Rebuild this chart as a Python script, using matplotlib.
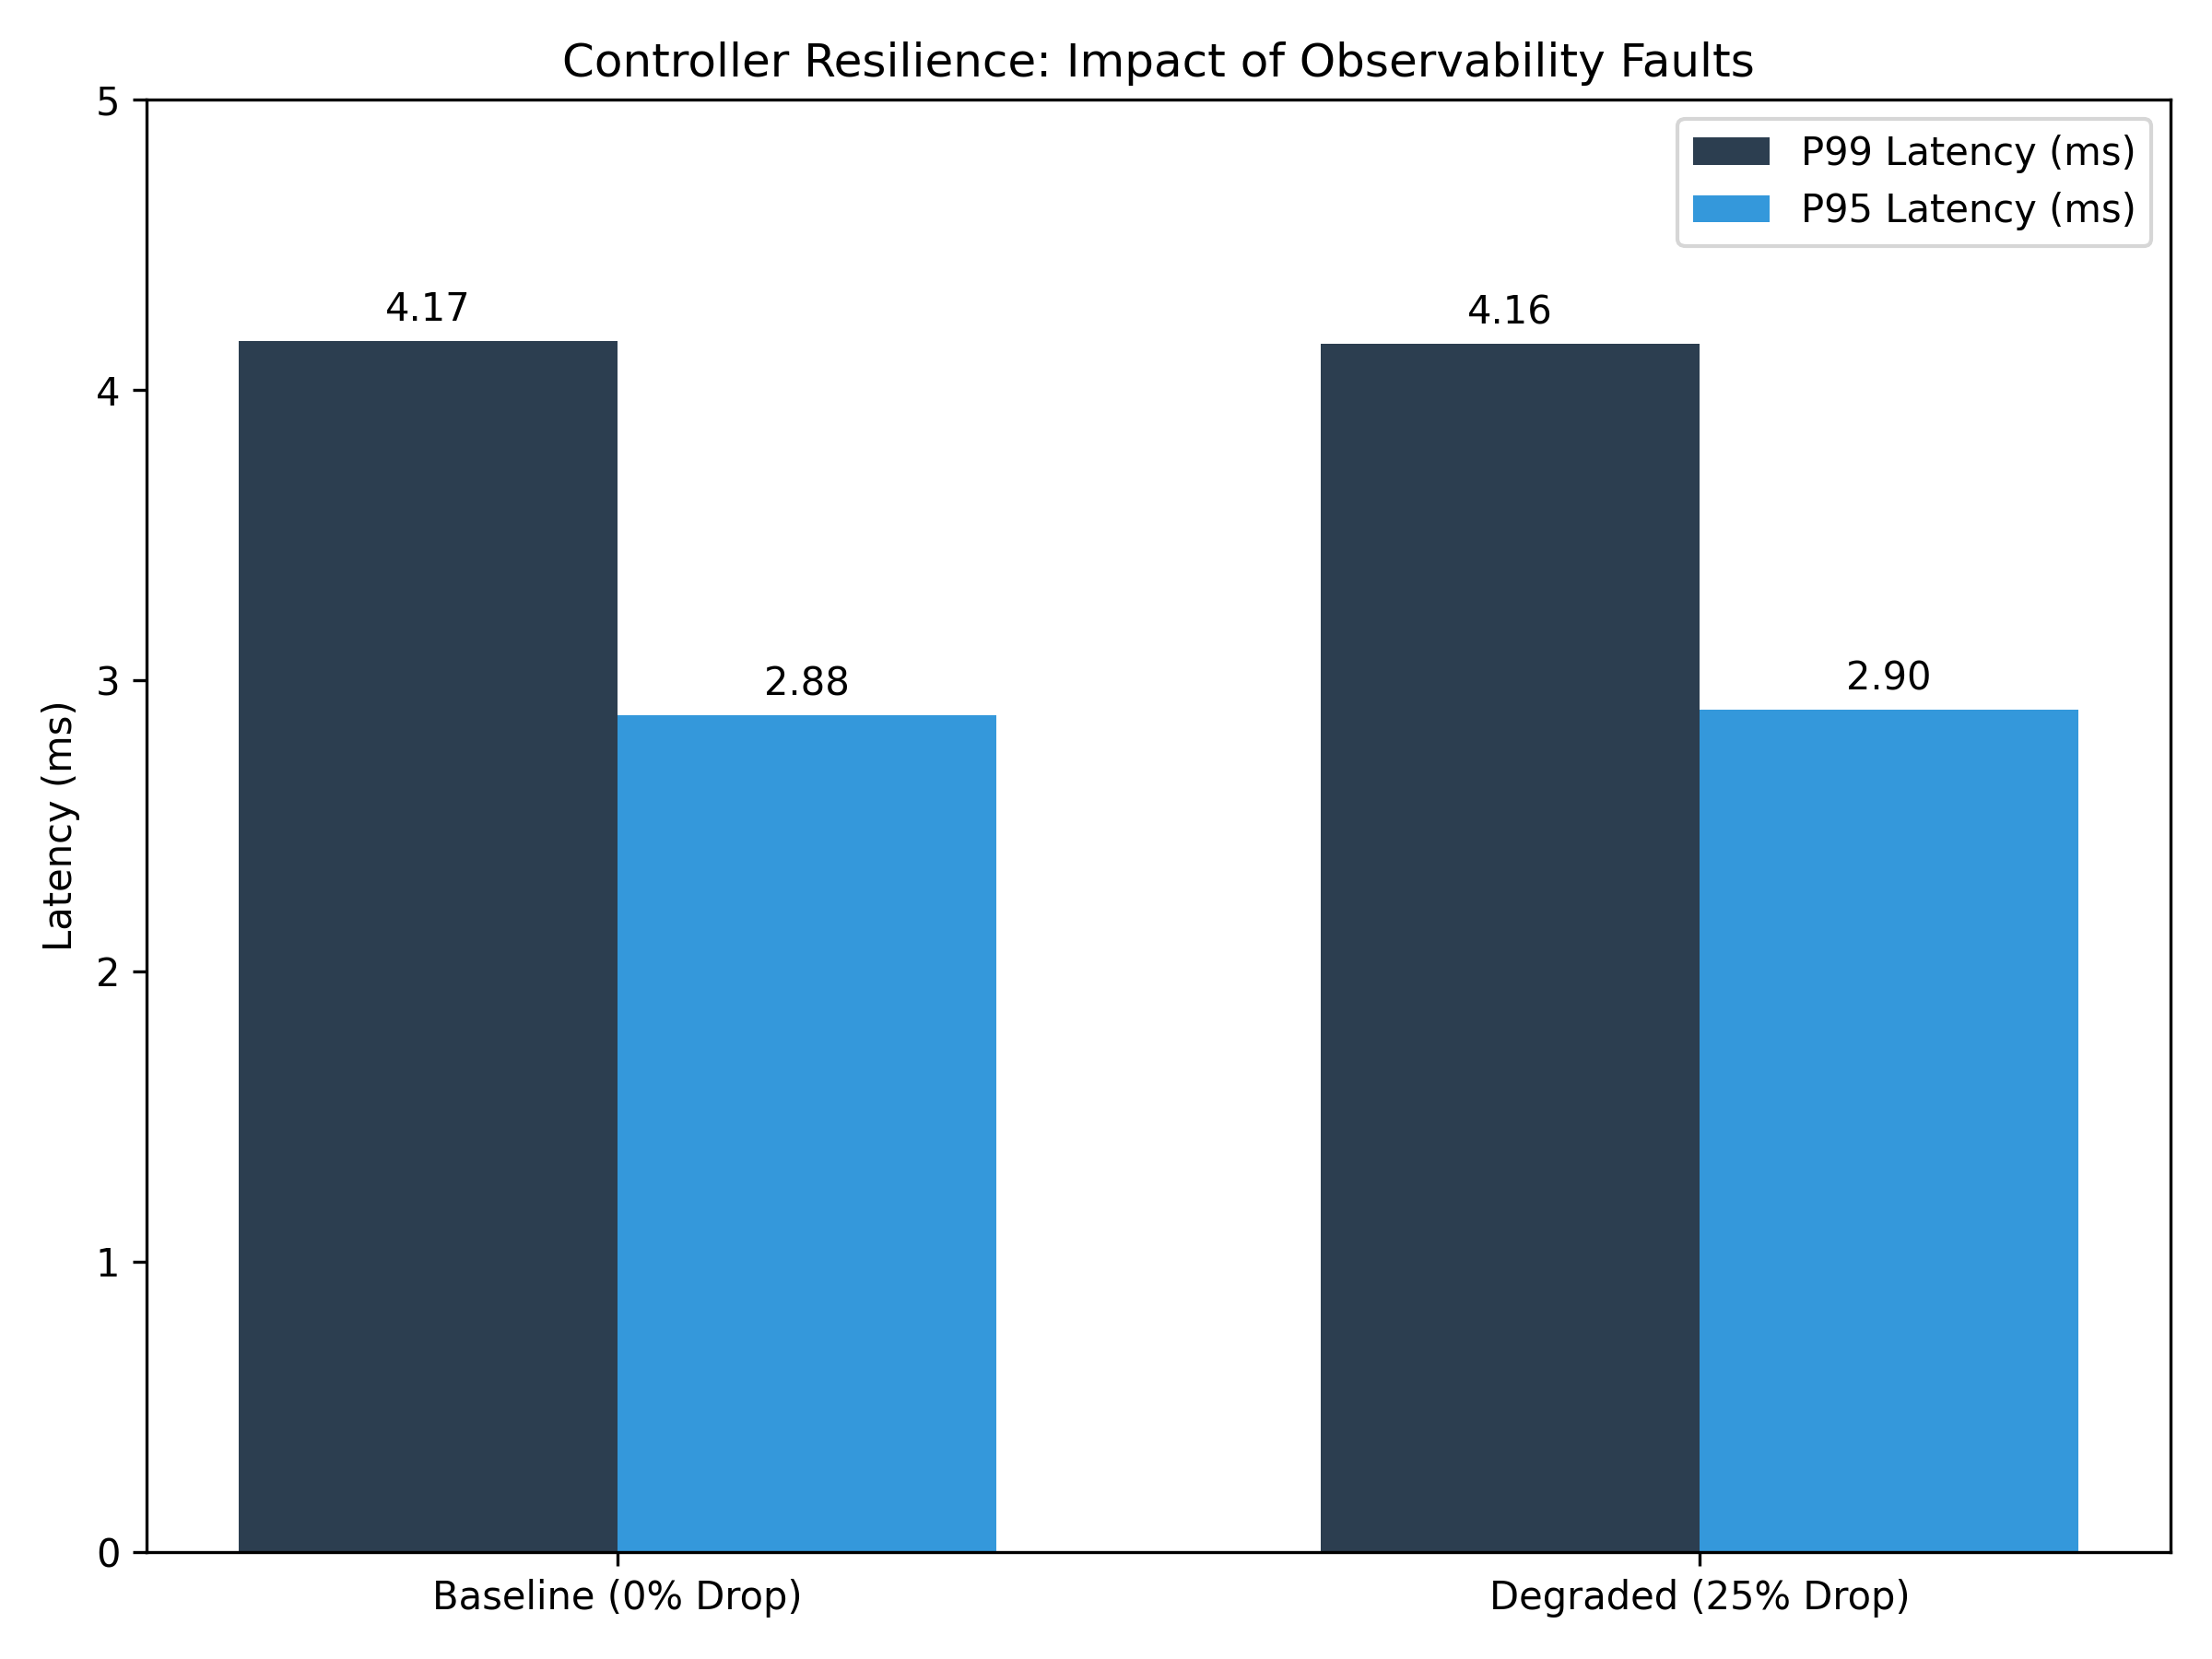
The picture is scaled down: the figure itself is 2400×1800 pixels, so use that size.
import numpy as np
import matplotlib
matplotlib.use("Agg")
import matplotlib.pyplot as plt

scenarios = ["Baseline (0% Drop)", "Degraded (25% Drop)"]
p99 = [4.17, 4.16]
p95 = [2.88, 2.90]

x = np.arange(len(scenarios))
width = 0.35

fig, ax = plt.subplots(figsize=(8, 6), dpi=300)
b1 = ax.bar(x - width / 2, p99, width, label="P99 Latency (ms)", color="#2c3e50")
b2 = ax.bar(x + width / 2, p95, width, label="P95 Latency (ms)", color="#3498db")

for bars in (b1, b2):
    for bar in bars:
        h = bar.get_height()
        ax.annotate(f"{h:.2f}", xy=(bar.get_x() + bar.get_width() / 2, h),
                    xytext=(0, 3), textcoords="offset points",
                    ha="center", va="bottom")

ax.set_ylabel("Latency (ms)")
ax.set_title("Controller Resilience: Impact of Observability Faults")
ax.set_xticks(x)
ax.set_xticklabels(scenarios)
ax.set_ylim(0, 5)
ax.legend()

fig.tight_layout()
fig.savefig("out.png")
